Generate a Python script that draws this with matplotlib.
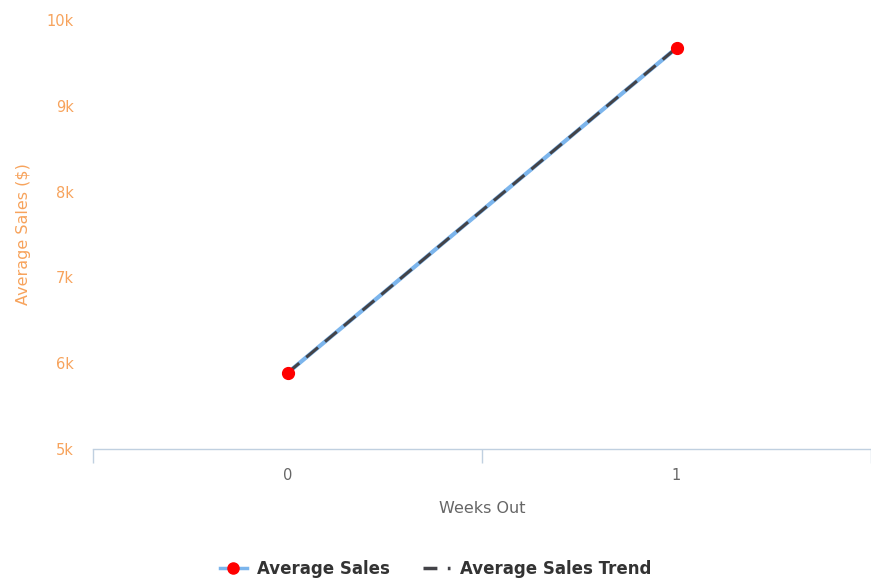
import matplotlib
matplotlib.use("Agg")
import matplotlib.pyplot as plt
from matplotlib.lines import Line2D

# data
weeks = [0, 1]
avg_sales = [5886, 9674]
trend = [5886, 9674]
y_ticks = [5000, 6000, 7000, 8000, 9000, 10000]
y_labels = ["5k", "6k", "7k", "8k", "9k", "10k"]

orange = "#f7a35c"
axis_col = "#c0d0e0"

fig = plt.figure(figsize=(8.71, 5.78), dpi=100)
ax = fig.add_axes([0.1068, 0.2232, 0.8932, 0.7422])

ax.plot(weeks, avg_sales, color="#7cb5ec", lw=3, zorder=2)
ax.plot(weeks, trend, color="#434348", lw=2.2, dashes=(5, 3), zorder=3)
ax.plot(weeks, avg_sales, "o", color="#ff0000", ms=8.5, zorder=4)

ax.set_xlim(-0.5, 1.5)
ax.set_ylim(5000, 10000)

for s in ["top", "right", "left"]:
    ax.spines[s].set_visible(False)
ax.spines["bottom"].set_color(axis_col)
ax.spines["bottom"].set_linewidth(1)

ax.set_xticks([-0.5, 0.5, 1.5])
ax.set_xticklabels([])
ax.set_xticks(weeks, minor=True)
ax.set_xticklabels([str(w) for w in weeks], minor=True, color="#666666", fontsize=10.5)
ax.tick_params(axis="x", which="major", length=10, color=axis_col, width=1)
ax.tick_params(axis="x", which="minor", length=0, pad=14)

ax.set_yticks(y_ticks)
ax.set_yticklabels(y_labels, color=orange, fontsize=10.5)
ax.tick_params(axis="y", length=0, pad=14)

ax.set_xlabel("Weeks Out", color="#666666", fontsize=11.5, labelpad=13)
ax.set_ylabel("Average Sales ($)", color=orange, fontsize=11.5, labelpad=11)

handles = [
    Line2D([], [], color="#7cb5ec", lw=2.5, marker="o", mfc="#ff0000", mec="#ff0000", ms=8),
    Line2D([], [], color="#434348", lw=2.5, dashes=(4, 3, 1, 3)),
]
fig.legend(handles, ["Average Sales", "Average Sales Trend"], loc="center",
           bbox_to_anchor=(0.5, 0.015), ncol=2, frameon=False, handlelength=1.6,
           columnspacing=2.0, handletextpad=0.6,
           prop={"size": 12, "weight": "bold"}, labelcolor="#333333")

fig.savefig("out.png", dpi=100)
